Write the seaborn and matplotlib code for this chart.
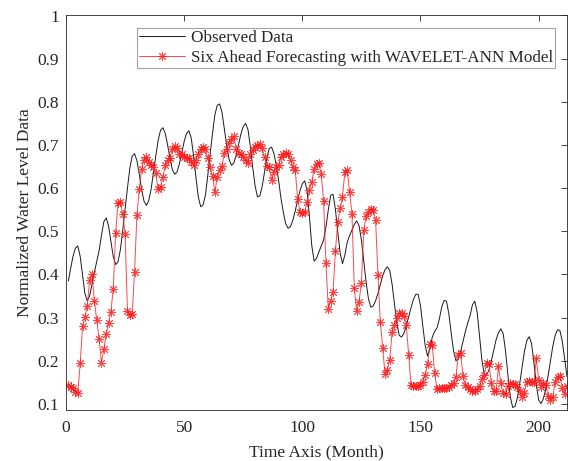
import numpy as np
import pandas as pd
import matplotlib
matplotlib.use("Agg")
import matplotlib.pyplot as plt
from matplotlib.ticker import FuncFormatter
import seaborn as sns

months = list(range(1, 213))

observed = [
    0.385, 0.415, 0.443, 0.461, 0.466, 0.442, 0.399, 0.356, 0.339, 0.350,
    0.378, 0.405, 0.430, 0.455, 0.490, 0.522, 0.531, 0.513, 0.477, 0.441,
    0.423, 0.429, 0.457, 0.502, 0.551, 0.600, 0.646, 0.674, 0.680, 0.664,
    0.633, 0.597, 0.570, 0.560, 0.571, 0.597, 0.636, 0.675, 0.711, 0.734,
    0.740, 0.727, 0.700, 0.669, 0.643, 0.632, 0.638, 0.657, 0.683, 0.708,
    0.727, 0.733, 0.716, 0.674, 0.624, 0.579, 0.557, 0.561, 0.584, 0.630,
    0.680, 0.727, 0.770, 0.792, 0.795, 0.776, 0.738, 0.699, 0.667, 0.653,
    0.658, 0.676, 0.700, 0.725, 0.743, 0.750, 0.736, 0.697, 0.649, 0.606,
    0.580, 0.582, 0.604, 0.637, 0.670, 0.692, 0.695, 0.680, 0.652, 0.617,
    0.575, 0.543, 0.517, 0.507, 0.511, 0.526, 0.547, 0.572, 0.594, 0.610,
    0.617, 0.596, 0.535, 0.467, 0.431, 0.437, 0.452, 0.466, 0.480, 0.510,
    0.550, 0.583, 0.586, 0.551, 0.499, 0.450, 0.425, 0.445, 0.475, 0.490,
    0.503, 0.516, 0.524, 0.513, 0.480, 0.432, 0.382, 0.343, 0.324, 0.327,
    0.339, 0.356, 0.377, 0.397, 0.411, 0.418, 0.409, 0.377, 0.331, 0.288,
    0.259, 0.255, 0.264, 0.281, 0.302, 0.323, 0.342, 0.354, 0.354, 0.328,
    0.280, 0.235, 0.211, 0.228, 0.255, 0.268, 0.276, 0.297, 0.325, 0.340,
    0.338, 0.309, 0.264, 0.223, 0.200, 0.205, 0.222, 0.245, 0.268, 0.288,
    0.305, 0.330, 0.338, 0.312, 0.257, 0.201, 0.168, 0.167, 0.179, 0.200,
    0.225, 0.249, 0.265, 0.274, 0.263, 0.222, 0.167, 0.117, 0.092, 0.094,
    0.114, 0.147, 0.186, 0.222, 0.247, 0.256, 0.240, 0.195, 0.145, 0.109,
    0.101, 0.112, 0.135, 0.165, 0.200, 0.234, 0.259, 0.272, 0.270, 0.245,
    0.205, 0.163,
]

forecast = [
    0.143, 0.140, 0.136, 0.128, 0.126, 0.194, 0.280, 0.302, 0.327, 0.387,
    0.402, 0.339, 0.294, 0.250, 0.196, 0.227, 0.262, 0.288, 0.314, 0.367,
    0.497, 0.565, 0.568, 0.540, 0.494, 0.316, 0.305, 0.308, 0.405, 0.537,
    0.598, 0.645, 0.666, 0.672, 0.661, 0.653, 0.649, 0.634, 0.597, 0.603,
    0.625, 0.653, 0.665, 0.669, 0.690, 0.697, 0.694, 0.680, 0.680, 0.672,
    0.669, 0.669, 0.661, 0.653, 0.665, 0.680, 0.690, 0.696, 0.690, 0.669,
    0.649, 0.628, 0.591, 0.626, 0.642, 0.651, 0.682, 0.690, 0.705, 0.713,
    0.720, 0.690, 0.682, 0.679, 0.672, 0.665, 0.659, 0.680, 0.688, 0.696,
    0.700, 0.702, 0.692, 0.672, 0.651, 0.648, 0.620, 0.638, 0.648, 0.653,
    0.672, 0.679, 0.682, 0.679, 0.665, 0.648, 0.643, 0.576, 0.545, 0.543,
    0.545, 0.568, 0.595, 0.615, 0.645, 0.656, 0.659, 0.632, 0.571, 0.426,
    0.321, 0.339, 0.360, 0.455, 0.522, 0.553, 0.580, 0.638, 0.642, 0.591,
    0.541, 0.368, 0.316, 0.337, 0.381, 0.503, 0.535, 0.545, 0.551, 0.549,
    0.526, 0.399, 0.291, 0.229, 0.169, 0.179, 0.203, 0.267, 0.283, 0.298,
    0.310, 0.311, 0.304, 0.283, 0.213, 0.144, 0.142, 0.142, 0.142, 0.144,
    0.152, 0.167, 0.193, 0.239, 0.237, 0.171, 0.134, 0.136, 0.136, 0.138,
    0.138, 0.140, 0.144, 0.148, 0.163, 0.213, 0.217, 0.165, 0.144, 0.139,
    0.134, 0.130, 0.129, 0.134, 0.142, 0.157, 0.167, 0.196, 0.193, 0.148,
    0.129, 0.129, 0.188, 0.148, 0.125, 0.123, 0.142, 0.148, 0.146, 0.146,
    0.140, 0.129, 0.117, 0.126, 0.152, 0.154, 0.152, 0.152, 0.206, 0.156,
    0.140, 0.148, 0.145, 0.119, 0.109, 0.117, 0.152, 0.162, 0.165, 0.136,
    0.123, 0.142,
]

x_ticks = [0, 50, 100, 150, 200]
y_ticks = [0.1, 0.2, 0.3, 0.4, 0.5, 0.6, 0.7, 0.8, 0.9, 1.0]

df = pd.DataFrame({"month": months, "observed": observed, "forecast": forecast})

sns.set_theme(style="white")
plt.rcParams["font.family"] = ["Liberation Serif", "DejaVu Serif"]

fig = plt.figure(figsize=(5.68, 4.61), dpi=100)
ax = fig.add_axes([66 / 568, 51 / 461, 501 / 568, 394.5 / 461])

sns.lineplot(data=df, x="month", y="observed", ax=ax, color="#1a1a1a",
             linewidth=0.7, label="Observed Data")
sns.lineplot(data=df, x="month", y="forecast", ax=ax, color="#ff1a1a",
             linewidth=0.7, alpha=0.8, marker=(8, 2, 0), markersize=6.5,
             markeredgewidth=0.7, markeredgecolor="#ff1a1a",
             label="Six Ahead Forecasting with WAVELET-ANN Model")

ax.set_xlim(0, 212)
ax.set_ylim(0.086, 1.0)
ax.set_xticks(x_ticks)
ax.set_yticks(y_ticks)
ax.yaxis.set_major_formatter(FuncFormatter(lambda v, p: f"{v:g}"))

axis_grey = "#262626"
for side in ["left", "right", "top", "bottom"]:
    ax.spines[side].set_visible(True)
    ax.spines[side].set_color(axis_grey)
    ax.spines[side].set_linewidth(0.6)
ax.tick_params(direction="in", length=4, width=0.6, color=axis_grey,
               top=True, right=True, labelsize=12.5, labelcolor=axis_grey)
ax.tick_params(axis="x", pad=7)
ax.tick_params(axis="y", pad=5)

ax.set_xlabel("Time Axis (Month)", fontsize=12.5, color=axis_grey, labelpad=6)
ax.set_ylabel("Normalized Water Level Data", fontsize=12.5, color=axis_grey,
              labelpad=3)

leg = ax.legend(loc="upper right", bbox_to_anchor=(0.976, 0.968),
                borderaxespad=0, fontsize=12.3, frameon=True, fancybox=False,
                handlelength=2.7, handletextpad=0.35, borderpad=0.12,
                labelspacing=0.22)
leg.get_frame().set_edgecolor("#8c8c8c")
leg.get_frame().set_linewidth(0.8)
for t in leg.get_texts():
    t.set_color(axis_grey)

fig.savefig("out.png", dpi=100)
